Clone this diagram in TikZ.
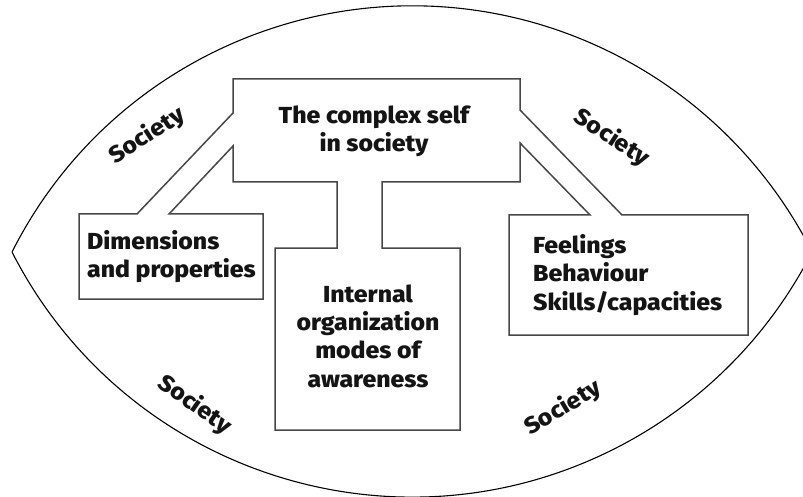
\documentclass[tikz,border=0pt]{standalone}
\usepackage{fontspec}
\setmainfont{Fira Sans}[BoldFont={Fira Sans ExtraBold}, BoldFeatures={FakeStretch=1.07}]
\begin{document}
\begin{tikzpicture}[x=1pt,y=-1pt]
\tikzset{
  lens/.style={draw=black, line width=1.1pt},
  frame/.style={draw=black!72, line width=1.5pt, line join=miter},
  lbl/.style={font=\bfseries\fontsize{23.2}{28.5}\selectfont, text=black!92, inner sep=0pt},
  line/.style={lbl, anchor=base},
  soc/.style={lbl, anchor=center}
}
\useasboundingbox (0,0) rectangle (803,497);
\clip (0,0) rectangle (803,497);
\fill[white] (0,0) rectangle (803,497);
% lens outline
\draw[lens] (12,252) arc[start angle=206.8, end angle=333.2, radius=448.2];
\draw[lens] (12,252) arc[start angle=152.98, end angle=27.02, radius=449.03];
% central structure
\draw[frame] (79,214) -- (137,214) -- (233,113) -- (233,79) -- (520,79) -- (520,110)
  -- (622,215) -- (748,215) -- (748,335) -- (509,335) -- (509,215) -- (590,215)
  -- (520,143) -- (520,182) -- (382,182) -- (382,248) -- (460,248) -- (460,430)
  -- (275,430) -- (275,248) -- (337,248) -- (337,182) -- (233,182) -- (233,146)
  -- (169,214) -- (263,214) -- (263,299) -- (79,299) -- cycle;
% texts
\node[line] (t1) at (374,123.3) {The complex self};
\node[line] (t2) at (374,151.7) {in society};
\node[line, anchor=base west] (d1) at (87,249) {Dimensions};
\node[line, anchor=base west] (d2) at (87,277) {and properties};
\node[line] (m1) at (368,302) {Internal};
\node[line] (m2) at (368,330.5) {organization};
\node[line] (m3) at (368,358.8) {modes of};
\node[line] (m4) at (368,387) {awareness};
\node[line, anchor=base west] (f1) at (533,253.5) {Feelings};
\node[line, anchor=base west] (f2) at (533,281.7) {Behaviour};
\node[line, anchor=base west] (f3) at (533,310) {Skills/capacities};
\node[soc, rotate=33] (s1) at (147,136) {Society};
\node[soc, rotate=-33] (s2) at (612,138) {Society};
\node[soc, rotate=-35] (s3) at (195,405) {Society};
\node[soc, rotate=31] (s4) at (563,408) {Society};
\end{tikzpicture}
\end{document}
